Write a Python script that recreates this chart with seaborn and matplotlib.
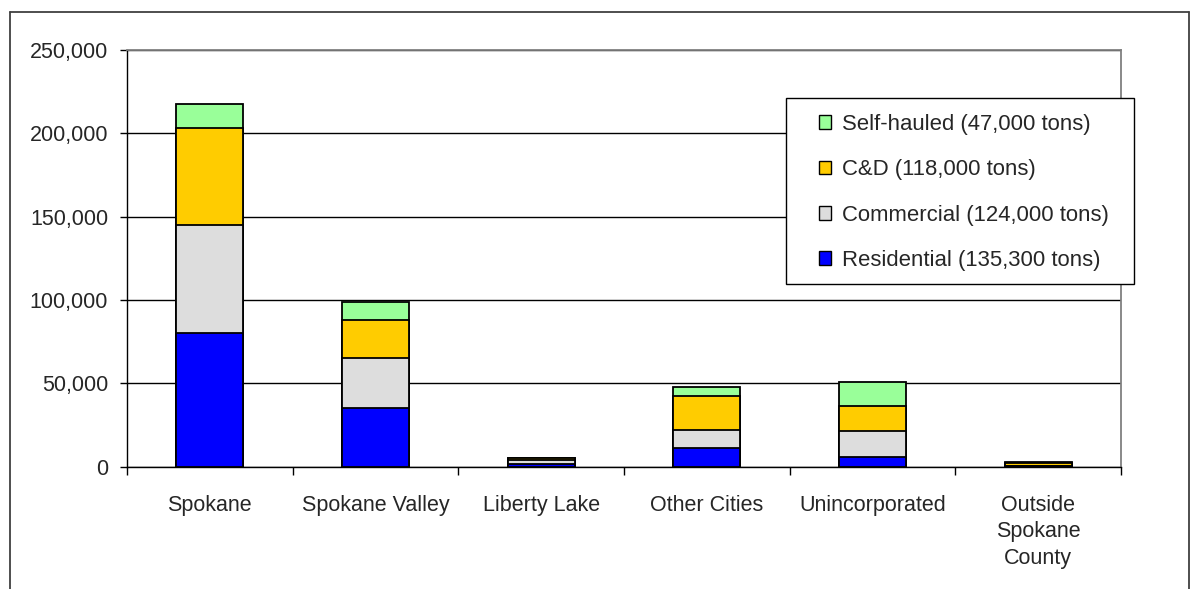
import numpy as np
import pandas as pd
import matplotlib.pyplot as plt
import matplotlib.ticker as mticker
from matplotlib.patches import Patch, Rectangle
import seaborn as sns

# Veri
areas = ['Spokane', 'Spokane Valley', 'Liberty Lake', 'Other Cities',
         'Unincorporated', 'Outside\nSpokane\nCounty']
residential = [80000, 35000, 1500, 11000, 6000, 200]
commercial = [65000, 30000, 2500, 11200, 15600, 300]
cnd = [58000, 23000, 1000, 20000, 15000, 2000]
self_hauled = [14500, 11000, 500, 5600, 14400, 300]

series_labels = ['Residential (135,300 tons)', 'Commercial (124,000 tons)',
                 'C&D (118,000 tons)', 'Self-hauled (47,000 tons)']
colors = ['#0000FF', '#DDDDDD', '#FFCC00', '#99FF99']

df = pd.DataFrame({'Area': areas, 'Residential': residential,
                   'Commercial': commercial, 'C&D': cnd,
                   'Self-hauled': self_hauled})
cols = ['Residential', 'Commercial', 'C&D', 'Self-hauled']
cum = df[cols].cumsum(axis=1)

sns.set_style('white')
plt.rcParams['font.family'] = ['Liberation Sans', 'DejaVu Sans']
fs = 15.5

fig = plt.figure(figsize=(11.9, 5.89), dpi=100)
ax = fig.add_axes([0.1067, 0.2076, 0.8353, 0.7075])

# yığılmış çubuklar: en üstteki toplamdan başlayarak üst üste çiz
for col, color in reversed(list(zip(cols, colors))):
    sns.barplot(x=df['Area'], y=cum[col], color=color, width=0.404,
                edgecolor='black', linewidth=1.3, saturation=1, ax=ax,
                zorder=3)

ax.set_ylim(0, 250000)
ax.set_xlim(-0.5, len(areas) - 0.5)
ax.set_yticks(np.arange(0, 250001, 50000))
ax.yaxis.set_major_formatter(mticker.FuncFormatter(lambda v, p: f'{int(v):,}'))
ax.yaxis.grid(True, color='black', linewidth=1, zorder=0)
ax.set_axisbelow(True)
ax.set_xlabel('')
ax.set_ylabel('')

ax.tick_params(axis='y', left=True, length=5, width=1, pad=8.5,
               labelsize=fs, color='black')
ax.tick_params(axis='x', which='major', bottom=False, pad=17, labelsize=fs)
for lbl in ax.get_xticklabels():
    lbl.set_linespacing(1.33)
ax.set_xticks(np.arange(-0.5, len(areas), 1), minor=True)
ax.tick_params(axis='x', which='minor', bottom=True, length=6, width=1,
               color='black')

for s in ['left', 'bottom']:
    ax.spines[s].set_color('black')
    ax.spines[s].set_linewidth(1)
for s in ['top', 'right']:
    ax.spines[s].set_color('#808080')
    ax.spines[s].set_linewidth(1.3)

# lejant çerçevesi (elle çizilir)
W, H = 1190.0, 589.0
fig.add_artist(Rectangle((786 / W, 1 - 284 / H), (1134 - 786) / W,
                         (284 - 98) / H, transform=fig.transFigure,
                         facecolor='white', edgecolor='black', linewidth=1,
                         zorder=4))

handles = [Patch(facecolor=c, edgecolor='black', linewidth=1, label=l)
           for c, l in zip(colors, series_labels)][::-1]
leg = fig.legend(handles=handles, loc='upper left',
                 bbox_to_anchor=(819 / W, 1 - 114 / H), fontsize=15.9,
                 frameon=False, handlelength=0.56, handleheight=0.56,
                 handletextpad=0.5, labelspacing=1.1, borderpad=0,
                 borderaxespad=0)
leg.set_zorder(5)

# dış çerçeve (alt kenar görüntünün dışında)
for xs, ys in [([0.0084, 0.0084], [0.9796, 0.0]),
               ([0.0084, 0.9990], [0.9796, 0.9796]),
               ([0.9990, 0.9990], [0.9796, 0.0])]:
    fig.add_artist(plt.Line2D(xs, ys, color='#404040', linewidth=1.3,
                              transform=fig.transFigure))

fig.savefig('out.png', dpi=100)
plt.close(fig)
